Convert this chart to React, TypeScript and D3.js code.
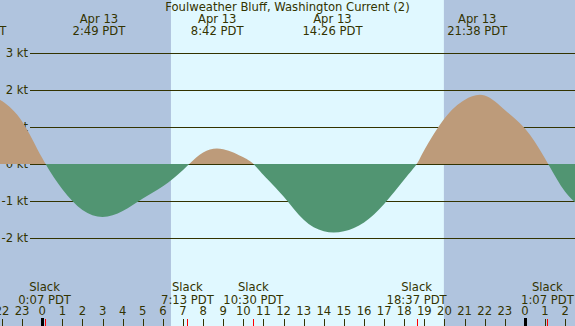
import React from "react";
import * as d3 from "d3";

const W = 575;
const H = 326;

const title = "Foulweather Bluff, Washington Current (2)";

// current speed samples (hours from Apr 13 00:00, knots)
const hours = [-4, -3, -2, -1, 0, 1, 2, 3, 4, 5, 6, 7, 8, 9, 10, 10.5, 11, 12, 13, 14, 15, 16, 17, 18, 18.62, 19, 20, 21, 22, 23, 24, 25, 26, 27];
const speeds = [1.72, 1.92, 1.7, 1.15, 0.16, -0.68, -1.24, -1.43, -1.27, -0.93, -0.6, -0.16, 0.31, 0.4, 0.18, 0, -0.3, -0.88, -1.51, -1.82, -1.82, -1.58, -1.08, -0.42, 0, 0.38, 1.23, 1.73, 1.85, 1.46, 0.96, 0.15, -0.75, -1.25];

const maxHours = [-3.28, 2.82, 8.7, 14.43, 21.63];
const maxDates = ["Apr 12", "Apr 13", "Apr 13", "Apr 13", "Apr 13"];
const maxTimes = ["20:43 PDT", "2:49 PDT", "8:42 PDT", "14:26 PDT", "21:38 PDT"];

const slackHours = [0.117, 7.217, 10.5, 18.617, 25.117];
const slackTimes = ["0:07 PDT", "7:13 PDT", "10:30 PDT", "18:37 PDT", "1:07 PDT"];

const sunrise = 6.4;
const sunset = 19.97;

const ktTicks = [3, 2, 1, 0, -1, -2];
const hourTicks = d3.range(-2, 27);

const ink = "#333300";
const font = "DejaVu Sans, sans-serif";

export default function App() {
  const x = d3.scaleLinear().domain([-2.1, 26.49]).range([0, W]);
  const y = d3.scaleLinear().domain([0, 3]).range([164, 53]);

  const pts = hours.map((h, i) => [h, speeds[i]] as [number, number]);
  const area = d3
    .area<[number, number]>()
    .x((d) => x(d[0]))
    .y0(y(0))
    .y1((d) => y(d[1]))
    .curve(d3.curveNatural);
  const path = area(pts) || "";

  const y0 = y(0);

  return (
    <svg
      width={W}
      height={H}
      style={{ position: "absolute", left: 0, top: 0, display: "block" }}
      fontFamily={font}
      fontSize={11.6}
    >
      <defs>
        <clipPath id="above">
          <rect x={0} y={0} width={W} height={y0} />
        </clipPath>
        <clipPath id="below">
          <rect x={0} y={y0} width={W} height={H - y0} />
        </clipPath>
      </defs>
      <rect x={0} y={0} width={W} height={H} fill="#b0c4de" />
      <rect x={x(sunrise)} y={0} width={x(sunset) - x(sunrise)} height={H} fill="#e0f8ff" />

      {ktTicks.map((k) => (
        <g key={k}>
          <line x1={30} x2={W} y1={Math.round(y(k)) + 0.5} y2={Math.round(y(k)) + 0.5} stroke={ink} strokeWidth={1} />
          <text x={28} y={y(k) + 4} textAnchor="end" fill={ink}>
            {k} kt
          </text>
        </g>
      ))}

      <path d={path} fill="#bd9b7a" clipPath="url(#above)" />
      <path d={path} fill="#519572" clipPath="url(#below)" />

      <text x={W / 2} y={11} textAnchor="middle" fill={ink}>
        {title}
      </text>

      {maxHours.map((h, i) => (
        <g key={"m" + i}>
          <text x={x(h)} y={22.5} textAnchor="middle" fill={ink}>
            {maxDates[i]}
          </text>
          <text x={x(h)} y={35} textAnchor="middle" fill={ink}>
            {maxTimes[i]}
          </text>
        </g>
      ))}

      {slackHours.map((h, i) => (
        <g key={"s" + i}>
          <text x={x(h)} y={291} textAnchor="middle" fill={ink}>
            Slack
          </text>
          <text x={x(h)} y={304} textAnchor="middle" fill={ink}>
            {slackTimes[i]}
          </text>
        </g>
      ))}

      {hourTicks.map((h) => {
        const px = Math.round(x(h)) + 0.5;
        const midnight = h % 24 === 0;
        return (
          <g key={"h" + h}>
            <text x={x(h)} y={315} textAnchor="middle" fill={ink}>
              {((h % 24) + 24) % 24}
            </text>
            <line
              x1={px}
              x2={px}
              y1={midnight ? 318 : 319}
              y2={H}
              stroke={midnight ? "#000" : ink}
              strokeWidth={midnight ? 3 : 1}
            />
          </g>
        );
      })}

      {slackHours.map((h, i) => (
        <line
          key={"r" + i}
          x1={Math.round(x(h)) + 0.5}
          x2={Math.round(x(h)) + 0.5}
          y1={319}
          y2={H}
          stroke="#ff0000"
          strokeWidth={1}
        />
      ))}
    </svg>
  );
}
